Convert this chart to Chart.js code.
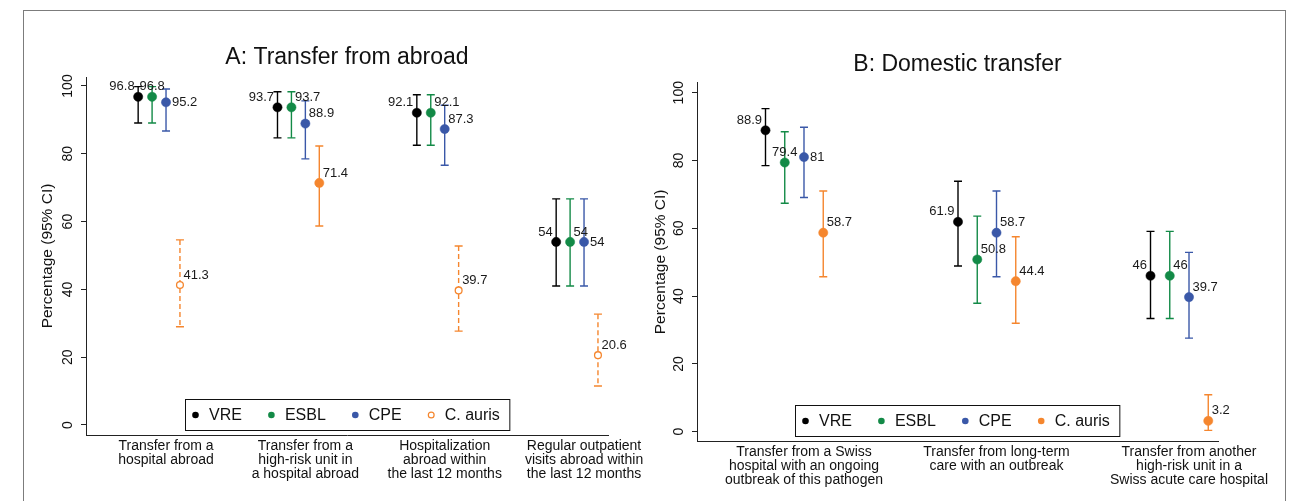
<!DOCTYPE html>
<html>
<head>
<meta charset="utf-8">
<script src="https://cdn.jsdelivr.net/npm/chart.js@4.4.1/dist/chart.umd.min.js"></script>
<style>
  html, body { margin: 0; padding: 0; background: #ffffff; width: 1299px; height: 501px; overflow: hidden; }
  #frame { position: absolute; left: 23px; top: 10px; width: 1263px; height: 620px; border: 1.5px solid #7c7c7c; box-sizing: border-box; }
  canvas { position: absolute; top: 0; }
</style>
</head>
<body>
<div id="frame"></div>
<canvas id="panelA" width="680" height="501" style="left:0px"></canvas>
<canvas id="panelB" width="679" height="501" style="left:620px"></canvas>
<script>
// ---- series ----
const seriesNames = ['VRE', 'ESBL', 'CPE', 'C. auris'];
const seriesColors = ['#000000', '#138a47', '#3a58a8', '#f5862e'];
const yTicks = [0, 20, 40, 60, 80, 100];

// ---- A: transfer from abroad ----
const categoriesA = [
  ['Transfer from a', 'hospital abroad'],
  ['Transfer from a', 'high-risk unit in', 'a hospital abroad'],
  ['Hospitalization', 'abroad within', 'the last 12 months'],
  ['Regular outpatient', 'visits abroad within', 'the last 12 months']
];
const vreA    = [96.8, 93.7, 92.1, 54];
const vreLoA  = [89.1, 84.7, 82.5, 41.0];
const vreHiA  = [99.8, 98.3, 97.4, 66.7];
const esblA   = [96.8, 93.7, 92.1, 54];
const esblLoA = [89.1, 84.7, 82.5, 41.0];
const esblHiA = [99.8, 98.3, 97.4, 66.7];
const cpeA    = [95.2, 88.9, 87.3, 54];
const cpeLoA  = [86.7, 78.5, 76.6, 41.0];
const cpeHiA  = [99.1, 95.6, 94.3, 66.7];
const aurisA   = [41.3, 71.4, 39.7, 20.6];
const aurisLoA = [29.0, 58.7, 27.7, 11.5];
const aurisHiA = [54.6, 82.3, 52.8, 32.7];

// ---- B: domestic transfer ----
const categoriesB = [
  ['Transfer from a Swiss', 'hospital with an ongoing', 'outbreak of this pathogen'],
  ['Transfer from long-term', 'care with an outbreak'],
  ['Transfer from another', 'high-risk unit in a', 'Swiss acute care hospital']
];
const vreB    = [88.9, 61.9, 46];
const vreLoB  = [78.5, 48.9, 33.4];
const vreHiB  = [95.3, 73.9, 59.1];
const esblB   = [79.4, 50.8, 46];
const esblLoB = [67.4, 37.9, 33.4];
const esblHiB = [88.5, 63.6, 59.1];
const cpeB    = [81, 58.7, 39.7];
const cpeLoB  = [69.1, 45.7, 27.6];
const cpeHiB  = [89.8, 71.0, 52.9];
const aurisB   = [58.7, 44.4, 3.2];
const aurisLoB = [45.7, 32.0, 0.4];
const aurisHiB = [71.0, 57.5, 10.9];

// ---- drawing ----
const FONT = '"Liberation Sans", Arial, Helvetica, sans-serif';
Chart.defaults.font.family = FONT;
Chart.defaults.color = '#111111';

// horizontal shift of each series around its category
const seriesShift = [-0.2, -0.1, 0, 0.1];

// openPoints: { seriesIndex: [point indexes drawn hollow with a dashed bar] }
function buildDatasets(values, lows, highs, openPoints, legendHollow) {
  return values.map((vals, s) => {
    const open = vals.map((v, i) => !!(openPoints[s] && openPoints[s].includes(i)));
    return {
      label: seriesNames[s],
      data: vals.map((v, i) => ({ x: i + 1 + seriesShift[s], y: v })),
      lo: lows[s],
      hi: highs[s],
      hollow: !!legendHollow[s],
      barDash: open.map(o => (o ? [5, 3] : [])),
      showLine: false,
      borderColor: seriesColors[s],
      backgroundColor: seriesColors[s],
      pointBackgroundColor: open.map(o => (o ? '#ffffff' : seriesColors[s])),
      pointBorderColor: seriesColors[s],
      pointRadius: open.map(o => (o ? 3.4 : 4.6)),
      pointHoverRadius: open.map(o => (o ? 3.4 : 4.6)),
      pointBorderWidth: open.map(o => (o ? 1.3 : 0.5))
    };
  });
}

// confidence intervals as capped vertical bars
const errorBars = {
  id: 'errorBars',
  beforeDatasetsDraw(chart) {
    const { ctx } = chart;
    const xs = chart.scales.x, ys = chart.scales.y;
    chart.data.datasets.forEach(ds => {
      ctx.save();
      ctx.strokeStyle = ds.borderColor;
      ctx.lineWidth = 1.4;
      ds.data.forEach((pt, i) => {
        const px = xs.getPixelForValue(pt.x);
        const yl = ys.getPixelForValue(ds.lo[i]);
        const yh = ys.getPixelForValue(ds.hi[i]);
        ctx.setLineDash(ds.barDash[i]);
        ctx.beginPath();
        ctx.moveTo(px, yh);
        ctx.lineTo(px, yl);
        ctx.stroke();
        ctx.setLineDash([]);
        ctx.beginPath();
        ctx.moveTo(px - 4, yl); ctx.lineTo(px + 4, yl);
        ctx.moveTo(px - 4, yh); ctx.lineTo(px + 4, yh);
        ctx.stroke();
      });
      ctx.restore();
    });
  }
};

// value next to each marker
const valueLabels = {
  id: 'valueLabels',
  afterDatasetsDraw(chart, args, opts) {
    const { ctx } = chart;
    ctx.save();
    ctx.font = '13px ' + FONT;
    ctx.fillStyle = '#1a1a1a';
    ctx.textBaseline = 'middle';
    chart.data.datasets.forEach((ds, di) => {
      const meta = chart.getDatasetMeta(di);
      meta.data.forEach((el, i) => {
        const key = di + ':' + i;
        const place = opts.overrides[key] || opts.defaults[di];
        let tx = el.x, ty = el.y;
        if (place === 'nw') { ctx.textAlign = 'right'; tx -= 3.5; ty -= 10; }
        else if (place === 'ne') { ctx.textAlign = 'left'; tx += 3.5; ty -= 10; }
        else if (place === 'n') { ctx.textAlign = 'center'; ty -= 10.5; }
        else { ctx.textAlign = 'left'; tx += 6; }
        ctx.fillText(String(ds.data[i].y), tx, ty);
      });
    });
    ctx.restore();
  }
};

// boxed legend inside the plot region
const boxedLegend = {
  id: 'boxedLegend',
  afterDraw(chart) {
    const { ctx, chartArea } = chart;
    ctx.save();
    ctx.font = '16px ' + FONT;
    const items = chart.data.datasets.map(ds => ({ ds, w: ctx.measureText(ds.label).width }));
    const padL = 10, padR = 10, markGap = 13.5, itemGap = 29.5, h = 31;
    let total = padL + padR;
    items.forEach((it, i) => { total += markGap + it.w + (i < items.length - 1 ? itemGap : 0); });
    const left = Math.round((chartArea.left + chartArea.right) / 2 - total / 2) + 0.5;
    const top = Math.round(chartArea.bottom - 5 - h) + 0.5;
    ctx.fillStyle = '#ffffff';
    ctx.fillRect(left, top, total, h);
    ctx.strokeStyle = '#111111';
    ctx.lineWidth = 1;
    ctx.strokeRect(left, top, total, h);
    const cy = top + h / 2;
    let cx = left + padL;
    items.forEach(it => {
      ctx.beginPath();
      ctx.arc(cx, cy, it.ds.hollow ? 2.9 : 3.3, 0, Math.PI * 2);
      if (it.ds.hollow) {
        ctx.strokeStyle = it.ds.borderColor; ctx.lineWidth = 1.2; ctx.stroke();
      } else {
        ctx.fillStyle = it.ds.borderColor; ctx.fill();
      }
      ctx.fillStyle = '#111111';
      ctx.textAlign = 'left';
      ctx.textBaseline = 'middle';
      ctx.fillText(it.ds.label, cx + markGap, cy + 0.5);
      cx += markGap + it.w + itemGap;
    });
    ctx.restore();
  }
};

function buildPanel(id, cfg) {
  return new Chart(document.getElementById(id), {
    type: 'scatter',
    data: { datasets: cfg.datasets },
    options: {
      responsive: false,
      animation: false,
      events: [],
      devicePixelRatio: 1,
      layout: { padding: { left: cfg.padLeft, right: cfg.padRight, top: 0, bottom: 0 } },
      scales: {
        x: {
          type: 'linear',
          min: cfg.xMin,
          max: cfg.xMax,
          afterBuildTicks: s => { s.ticks = cfg.categories.map((c, i) => ({ value: i + 1 })); },
          afterFit: s => { s.height = cfg.xHeight; },
          grid: { display: false, drawTicks: false },
          border: { display: true, color: '#222222', width: 1 },
          ticks: {
            autoSkip: false, minRotation: 0, maxRotation: 0, padding: 4,
            color: '#111111',
            font: { size: 14, lineHeight: 1.0 },
            callback: (v, i) => cfg.categories[i]
          }
        },
        y: {
          type: 'linear',
          min: cfg.yMin,
          max: cfg.yMax,
          afterBuildTicks: s => { s.ticks = yTicks.map(v => ({ value: v })); },
          afterFit: s => { s.width = cfg.yWidth; },
          grid: { display: true, drawOnChartArea: false, drawTicks: true, tickLength: 5, color: '#222222' },
          border: { display: true, color: '#222222', width: 1 },
          ticks: {
            minRotation: 90, maxRotation: 90, crossAlign: 'center', padding: 1.3,
            color: '#111111',
            font: { size: 14 },
            callback: v => String(v)
          },
          title: {
            display: true,
            text: 'Percentage (95% CI)',
            color: '#111111',
            font: { size: 15.5, lineHeight: 1.2 },
            padding: 0
          }
        }
      },
      plugins: {
        legend: { display: false },
        tooltip: { enabled: false },
        title: {
          display: true,
          text: cfg.title,
          fullSize: false,
          color: '#111111',
          font: { size: 23, weight: 'normal', lineHeight: 1.2 },
          padding: { top: cfg.titleTop, bottom: cfg.titleBottom }
        },
        valueLabels: { defaults: ['nw', 'ne', 'ne', 'ne'], overrides: cfg.labelOverrides }
      }
    },
    plugins: [errorBars, valueLabels, boxedLegend]
  });
}

buildPanel('panelA', {
  title: 'A: Transfer from abroad',
  categories: categoriesA,
  datasets: buildDatasets(
    [vreA, esblA, cpeA, aurisA],
    [vreLoA, esblLoA, cpeLoA, aurisLoA],
    [vreHiA, esblHiA, cpeHiA, aurisHiA],
    { 3: [0, 2, 3] },
    [false, false, false, true]
  ),
  xMin: 0.4257, xMax: 4.172,
  yMin: -2.95, yMax: 102.65,
  padLeft: 38.7, padRight: 72, yWidth: 47.3, xHeight: 66,
  titleTop: 44.2, titleBottom: 5.2,
  labelOverrides: { '1:0': 'n', '2:0': 'e', '2:3': 'e' }
});

buildPanel('panelB', {
  title: 'B: Domestic transfer',
  categories: categoriesB,
  datasets: buildDatasets(
    [vreB, esblB, cpeB, aurisB],
    [vreLoB, esblLoB, cpeLoB, aurisLoB],
    [vreHiB, esblHiB, cpeHiB, aurisHiB],
    {},
    [false, false, false, false]
  ),
  xMin: 0.4442, xMax: 3.1506,
  yMin: -2.74, yMax: 102.95,
  padLeft: 31.7, padRight: 81, yWidth: 45.3, xHeight: 60,
  titleTop: 51.2, titleBottom: 3.9,
  labelOverrides: { '1:0': 'n', '2:0': 'e' }
});
</script>
</body>
</html>
